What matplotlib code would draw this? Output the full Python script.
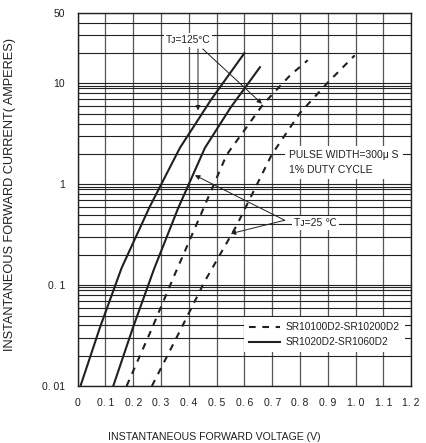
import numpy as np
import matplotlib
matplotlib.use("Agg")
import matplotlib.pyplot as plt
import matplotlib.ticker as mticker
import matplotlib.lines as mlines

plt.rcParams['font.family'] = ['Liberation Sans', 'DejaVu Sans']

# forward voltage (V) / current (A)
v_solid_125 = [0.01, 0.08, 0.158, 0.258, 0.368, 0.48, 0.60]
i_solid_125 = [0.01, 0.038, 0.148, 0.59, 2.3, 6.9, 20.0]
v_solid_25 = [0.128, 0.199, 0.275, 0.361, 0.458, 0.55, 0.656]
i_solid_25 = [0.01, 0.038, 0.145, 0.575, 2.3, 5.75, 14.5]
v_dash_125 = [0.176, 0.263, 0.35, 0.443, 0.536, 0.667, 0.764, 0.828]
i_dash_125 = [0.01, 0.035, 0.129, 0.5, 1.96, 6.2, 12.0, 17.0]
v_dash_25 = [0.267, 0.363, 0.458, 0.572, 0.698, 0.80, 0.90, 0.997]
i_dash_25 = [0.01, 0.033, 0.11, 0.39, 1.96, 5.1, 10.2, 19.0]

x_ticks = [0, 0.1, 0.2, 0.3, 0.4, 0.5, 0.6, 0.7, 0.8, 0.9, 1.0, 1.1, 1.2]
x_labels = ["0", "0. 1", "0. 2", "0. 3", "0. 4", "0. 5", "0. 6", "0. 7",
            "0. 8", "0. 9", "1. 0", "1. 1", "1. 2"]
y_ticks = [0.01, 0.1, 1, 10, 50]
y_labels = ["0. 01", "0. 1", "1", "10", "50"]
legend_names = ["SR10100D2-SR10200D2", "SR1020D2-SR1060D2"]

ink = '#231f20'
fig = plt.figure(figsize=(4.26, 4.43), dpi=100)
ax = fig.add_axes([0.1824, 0.1287, 0.7826, 0.842])

ax.set_yscale('log')
ax.set_xlim(0, 1.2)
ax.set_ylim(0.01, 50)

# grid: vertical every 0.1 V, horizontal log lines
ax.xaxis.set_major_locator(mticker.FixedLocator(x_ticks))
ax.xaxis.set_major_formatter(mticker.FixedFormatter(x_labels))
ax.yaxis.set_major_locator(mticker.FixedLocator(y_ticks))
ax.yaxis.set_major_formatter(mticker.FixedFormatter(y_labels))
ax.yaxis.set_minor_locator(mticker.LogLocator(base=10, subs=[2, 3, 4, 5, 6, 7, 8, 9, 9.5]))
ax.yaxis.set_minor_formatter(mticker.NullFormatter())
ax.grid(True, axis='x', which='major', color='#555555', lw=0.9)
ax.grid(True, axis='y', which='both', color='#222222', lw=0.8)
ax.set_axisbelow(True)
ax.tick_params(axis='both', which='both', length=0, labelsize=7.5, colors=ink)
ax.tick_params(axis='y', pad=9)
ax.tick_params(axis='x', pad=9)
for s in ax.spines.values():
    s.set_color(ink)
    s.set_linewidth(1.0)

ax.plot(v_solid_125, i_solid_125, color=ink, lw=1.5, zorder=3)
ax.plot(v_solid_25, i_solid_25, color=ink, lw=1.5, zorder=3)
ax.plot(v_dash_125, i_dash_125, color=ink, lw=1.5, ls=(0, (3.2, 3.2)), zorder=3)
ax.plot(v_dash_25, i_dash_25, color=ink, lw=1.5, ls=(0, (3.2, 3.2)), zorder=3)

box = dict(fc='white', ec='none', pad=1.5)
arrow = dict(arrowstyle='-|>', color=ink, lw=0.7, mutation_scale=7, shrinkA=0, shrinkB=0)

ax.text(0.397, 27, "Tᴊ=125°C", fontsize=7.3, ha='center', va='center', color=ink, bbox=box, zorder=4)
ax.annotate('', xy=(0.433, 5.4), xytext=(0.433, 22), arrowprops=arrow, zorder=4)
ax.annotate('', xy=(0.663, 6.3), xytext=(0.45, 22), arrowprops=arrow, zorder=4)

ax.text(0.76, 1.65, "PULSE WIDTH=300μ S\n1% DUTY CYCLE", fontsize=7.5, ha='left', va='center',
        linespacing=1.6, color=ink, bbox=dict(fc='white', ec='none', pad=3), zorder=4)

ax.text(0.855, 0.41, "Tᴊ=25 ℃", fontsize=7.5, ha='center', va='center', color=ink, bbox=box, zorder=4)
ax.annotate('', xy=(0.422, 1.23), xytext=(0.745, 0.44), arrowprops=arrow, zorder=4)
ax.annotate('', xy=(0.551, 0.324), xytext=(0.745, 0.44), arrowprops=arrow, zorder=4)

dash_h = mlines.Line2D([], [], color=ink, lw=1.5, ls=(0, (3.2, 3.2)), label=legend_names[0])
solid_h = mlines.Line2D([], [], color=ink, lw=1.5, label=legend_names[1])
leg = ax.legend(handles=[dash_h, solid_h], loc='lower left', bbox_to_anchor=(0.5, 0.09, 0.46, 0.1),
                fontsize=7.3, frameon=True, fancybox=False, framealpha=1, facecolor='white',
                edgecolor='none', handlelength=3.0, handletextpad=0.6, borderpad=0.5,
                labelspacing=0.5, borderaxespad=0)
leg.set_zorder(5)
for t in leg.get_texts():
    t.set_color(ink)

fig.text(0.024, 0.562, "INSTANTANEOUS FORWARD CURRENT( AMPERES)", rotation=90,
         ha='center', va='center', fontsize=9.2, color=ink)
fig.text(0.502, 0.014, "INSTANTANEOUS FORWARD VOLTAGE (V)", ha='center', va='center',
         fontsize=7.6, color=ink)

fig.savefig('out.png', dpi=100, facecolor='white')
